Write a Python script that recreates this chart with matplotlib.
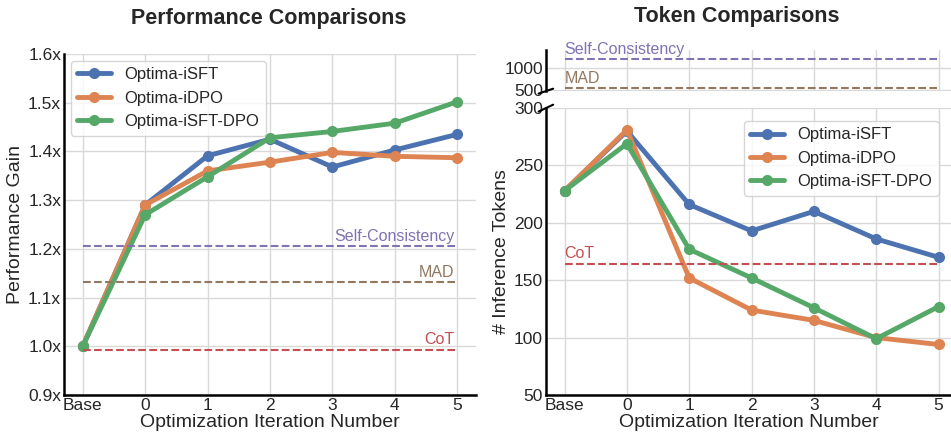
import matplotlib.pyplot as plt
import seaborn as sns

sns.set_theme(style="whitegrid")
plt.rcParams['font.family'] = ['Liberation Sans', 'DejaVu Sans']

steps = ["Base", "0", "1", "2", "3", "4", "5"]
series_names = ["Optima-iSFT", "Optima-iDPO", "Optima-iSFT-DPO"]

perf_isft = [1.0, 1.29, 1.391, 1.425, 1.368, 1.403, 1.435]
perf_idpo = [1.0, 1.29, 1.36, 1.378, 1.398, 1.39, 1.387]
perf_isft_dpo = [1.0, 1.27, 1.348, 1.428, 1.441, 1.458, 1.502]
perf_baselines = {"Self-Consistency": 1.205, "MAD": 1.131, "CoT": 0.993}

tok_isft = [228, 280, 216, 193, 210, 186, 170]
tok_idpo = [228, 281, 152, 124, 115, 100, 94]
tok_isft_dpo = [228, 269, 177, 152, 126, 99, 127]
tok_baselines = {"Self-Consistency": 1195, "MAD": 545, "CoT": 164}

pal = sns.color_palette("deep")
line_cols = [pal[0], pal[1], pal[2]]
base_cols = {"Self-Consistency": pal[4], "MAD": pal[5], "CoT": pal[3]}

fig = plt.figure(figsize=(9.51, 4.34), dpi=100)
ax1 = fig.add_axes([0.0673, 0.0899, 0.4332, 0.7857])
ax2 = fig.add_axes([0.574, 0.0899, 0.426, 0.661])
ax3 = fig.add_axes([0.574, 0.790, 0.426, 0.095])

x = list(range(len(steps)))


def style(ax):
    ax.grid(True, color="#d9d9d9", linewidth=1)
    for s in ["top", "right"]:
        ax.spines[s].set_visible(False)
    for s in ["left", "bottom"]:
        ax.spines[s].set_color("black")
        ax.spines[s].set_linewidth(1.8)
    ax.tick_params(labelsize=12.5, pad=2, length=0)
    ax.set_xlim(-0.3, 6.3)


# left: performance
style(ax1)
for vals, name, c in zip([perf_isft, perf_idpo, perf_isft_dpo], series_names, line_cols):
    ax1.plot(x, vals, marker="o", lw=3.5, ms=7, color=c, label=name)
for name, v in perf_baselines.items():
    ax1.plot([0, 6], [v, v], ls="--", lw=1.5, color=base_cols[name])
    ax1.text(5.95, v + 0.005, name, ha="right", va="bottom", fontsize=11.5, color=base_cols[name])
ax1.set_ylim(0.9, 1.6)
ax1.set_yticks([0.9, 1.0, 1.1, 1.2, 1.3, 1.4, 1.5, 1.6])
ax1.set_yticklabels([f"{t:.1f}x" for t in [0.9, 1.0, 1.1, 1.2, 1.3, 1.4, 1.5, 1.6]])
ax1.set_xticks(x)
ax1.set_xticklabels(steps)
ax1.set_xlabel("Optimization Iteration Number", fontsize=14, labelpad=1)
ax1.set_ylabel("Performance Gain", fontsize=14, labelpad=3)
ax1.legend(loc="upper left", fontsize=12, frameon=True, handlelength=2, borderaxespad=0.4)
fig.text(0.283, 0.958, "Performance Comparisons", ha="center", va="center",
         fontsize=15.5, fontweight="bold", color="#262626")

# right: tokens
style(ax2)
style(ax3)
ax3.spines["bottom"].set_visible(False)
ax2.set_xlim(-0.3, 6.2)
ax3.set_xlim(-0.3, 6.2)
for vals, name, c in zip([tok_isft, tok_idpo, tok_isft_dpo], series_names, line_cols):
    ax2.plot(x, vals, marker="o", lw=3.5, ms=7, color=c, label=name)
for name, v in tok_baselines.items():
    target = ax2 if v < 300 else ax3
    target.plot([0, 6], [v, v], ls="--", lw=1.5, color=base_cols[name])
    target.text(0.0, v + (3 if target is ax2 else 40), name, ha="left", va="bottom",
                fontsize=11.5, color=base_cols[name])
ax2.set_ylim(50, 300)
ax2.set_yticks([50, 100, 150, 200, 250, 300])
ax3.set_ylim(480, 1400)
ax3.set_yticks([500, 1000])
ax2.set_xticks(x)
ax2.set_xticklabels(steps)
ax3.set_xticks(x)
ax3.set_xticklabels([])
ax2.set_xlabel("Optimization Iteration Number", fontsize=14, labelpad=1)
ax2.set_ylabel("# Inference Tokens", fontsize=14, labelpad=3)
ax2.legend(loc="upper right", fontsize=12, frameon=True, handlelength=2,
           bbox_to_anchor=(0.99, 0.985))
fig.text(0.775, 0.962, "Token Comparisons", ha="center", va="center",
         fontsize=15.5, fontweight="bold", color="#262626")

# break marks
d = 0.012
kw = dict(color="black", lw=1.5, clip_on=False)
ax3.plot([-d * 1.5, d * 1.5], [-d * 5, d * 5], transform=ax3.transAxes, **kw)
ax2.plot([-d * 1.5, d * 1.5], [1 - d, 1 + d], transform=ax2.transAxes, **kw)

fig.savefig("out.png", dpi=100)
